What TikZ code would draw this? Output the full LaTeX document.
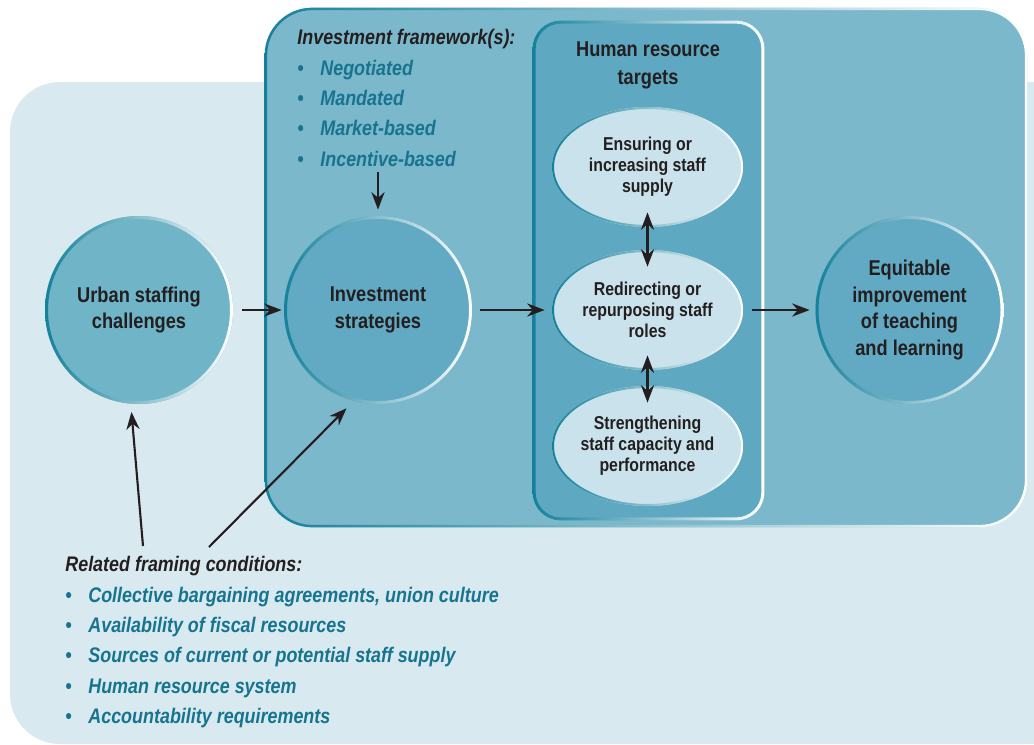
\documentclass[tikz,border=0pt]{standalone}
\usepackage{fontspec}
\setmainfont{Liberation Sans}[FakeStretch=0.85]
\usepackage{xcolor}
\usepackage{tikz}
\usetikzlibrary{shapes.geometric, arrows, arrows.meta, positioning, calc}
\definecolor{bgLight}{HTML}{D9E9F0}
\definecolor{frameFill}{HTML}{7CB8CB}
\definecolor{hrFill}{HTML}{5FA8C2}
\definecolor{circFill}{HTML}{62A9C3}
\definecolor{urbanFill}{HTML}{70B4C8}
\definecolor{ovalFill}{HTML}{C9E2EB}
\definecolor{rimDark}{HTML}{14819A}
\definecolor{listTeal}{HTML}{17748F}
\definecolor{inkDark}{HTML}{231F20}
\newcommand{\bitem}[1]{\textcolor{listTeal}{\makebox[0.46cm][l]{\textbullet}#1}}

\begin{document}
\begin{tikzpicture}[
    circ/.style={circle, fill=circFill, minimum size=3.76cm, inner sep=0, align=center, text=inkDark, font=\bfseries\fontsize{12.2}{15.3}\selectfont},
    oval/.style={ellipse, fill=ovalFill, minimum width=3.82cm, minimum height=2.4cm, inner sep=0, align=center, text=inkDark, font=\bfseries\fontsize{10.6}{12}\selectfont},
    panel/.style={rectangle, inner sep=0},
    rim/.style={left color=rimDark, right color=white, even odd rule},
    list/.style={align=left, inner sep=0, anchor=north west, text=inkDark, font=\bfseries\itshape\fontsize{12}{17.3}\selectfont},
    title/.style={align=center, inner sep=0, text=inkDark, font=\bfseries\fontsize{12.2}{15.9}\selectfont},
    arrow/.style={line width=1.2pt,->,>={Stealth[length=10pt,width=7.5pt]},inkDark},
    dbl/.style={arrow,<->,shorten <=-0.3cm,shorten >=-0.34cm}
]
    \useasboundingbox (0,0) rectangle (20.68,14.88);

    % panels
    \fill[bgLight, rounded corners=1cm] (0.2,0) rectangle (21.6,13.24);
    \node[panel, fill=frameFill, rounded corners=0.95cm, minimum width=15.24cm, minimum height=10.38cm] (frame) at (12.92,9.53) {};
    \shade[rim, rounded corners=0.95cm] (frame.south west) rectangle (frame.north east)
        [rounded corners=0.9cm] ([shift={(0.05,0.05)}]frame.south west) rectangle ([shift={(-0.05,-0.05)}]frame.north east);
    \node[panel, fill=hrFill, rounded corners=0.56cm, minimum width=4.62cm, minimum height=9.98cm] (hrbox) at (12.97,9.47) {};
    \shade[rim, rounded corners=0.56cm] (hrbox.south west) rectangle (hrbox.north east)
        [rounded corners=0.5cm] ([shift={(0.06,0.06)}]hrbox.south west) rectangle ([shift={(-0.06,-0.06)}]hrbox.north east);

    % circles
    \node[circ, fill=urbanFill] (urban) at (2.78,8.68) {Urban staffing\\challenges};
    \node[circ] (invest) at (7.56,8.68) {Investment\\strategies};
    \node[circ] (equit) at (18.19,8.68) {Equitable\\improvement\\of teaching\\and learning};
    \foreach \c in {urban,invest,equit}
        \shade[rim] (\c.center) circle (1.88) circle (1.82);

    % human resource targets
    \node[title] (hrtitle) at (12.96,13.58) {Human resource\\targets};
    \node[oval] (supply) at (12.95,11.54) {Ensuring or\\increasing staff\\supply};
    \node[oval] (roles) at (12.95,8.68) {Redirecting or\\repurposing staff\\roles};
    \node[oval] (capacity) at (12.95,5.96) {Strengthening\\staff capacity and\\performance};
    \foreach \e in {supply,roles,capacity}
        \shade[rim] (\e.center) ellipse [x radius=1.91, y radius=1.2] ellipse [x radius=1.87, y radius=1.16];

    % lists
    \node[list] (framework) at (5.94,14.30) {Investment framework(s):\\
        \bitem{Negotiated}\\ \bitem{Mandated}\\ \bitem{Market-based}\\ \bitem{Incentive-based}};
    \node[list] (conditions) at (1.30,3.76) {Related framing conditions:\\
        \bitem{Collective bargaining agreements, union culture}\\
        \bitem{Availability of fiscal resources}\\
        \bitem{Sources of current or potential staff supply}\\
        \bitem{Human resource system}\\
        \bitem{Accountability requirements}};
    \coordinate (condA) at (2.86,3.96);
    \coordinate (condB) at (4.18,3.94);

    % arrows
    \draw[arrow, shorten <=0.18cm, shorten >=0.04cm] (urban) -- (invest);
    \draw[arrow, shorten <=0.16cm, shorten >=0.14cm] (invest) -- (roles);
    \draw[arrow, shorten <=0.18cm, shorten >=0.11cm] (roles) -- (equit);
    \draw[dbl] (supply) -- (roles);
    \draw[dbl] (roles) -- (capacity);
    \draw[arrow, shorten <=0.1cm, shorten >=0.12cm] (framework.south -| invest) -- (invest);
    \draw[arrow, shorten >=0.16cm] (condA) -- (urban.265);
    \draw[arrow, shorten >=0.2cm] (condB) -- (invest.255);
\end{tikzpicture}
\end{document}
